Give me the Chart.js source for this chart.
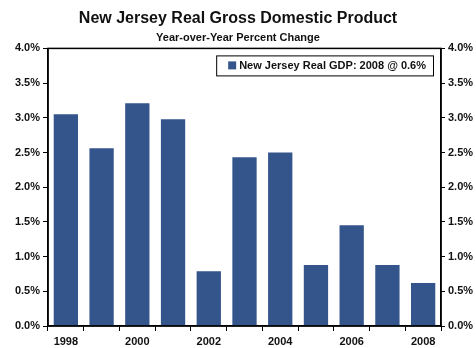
<!DOCTYPE html>
<html>
<head>
<meta charset="utf-8">
<script src="https://cdn.jsdelivr.net/npm/chart.js@4/dist/chart.umd.min.js"></script>
<style>
  html, body { margin: 0; padding: 0; background: #fff; }
  #wrap { width: 476px; height: 348px; }
</style>
</head>
<body>
<div id="wrap"><canvas id="gdpChart" width="476" height="348"></canvas></div>
<script>
const years = ['1998', '1999', '2000', '2001', '2002', '2003', '2004', '2005', '2006', '2007', '2008'];
const gdpGrowth = [3.05, 2.56, 3.21, 2.98, 0.79, 2.43, 2.50, 0.88, 1.45, 0.88, 0.62];
const seriesLabel = 'New Jersey Real GDP: 2008 @ 0.6%';
const yMin = 0, yMax = 4, yStep = 0.5;

const fontFamily = "'Liberation Sans', Arial, sans-serif";
const barColor = '#34558B';

// box round the plot area
const frame = {
   id: 'frame',
   afterDraw(chart) {
      const a = chart.chartArea, c = chart.ctx;
      c.save();
      c.strokeStyle = '#000';
      c.lineWidth = 1.5;
      c.strokeRect(a.left, a.top, a.right - a.left, a.bottom - a.top);
      c.restore();
   }
};

// legend drawn inside the plot, top right, with a border
const boxLegend = {
   id: 'boxLegend',
   afterDraw(chart) {
      const a = chart.chartArea, c = chart.ctx;
      const ds = chart.data.datasets[0];
      c.save();
      c.font = 'bold 11px ' + fontFamily;
      const tw = c.measureText(ds.label).width;
      const w = tw + 30, h = 20;
      const x = a.right - 8 - w, y = a.top + 7;
      c.fillStyle = '#fff';
      c.fillRect(x, y, w, h);
      c.strokeStyle = '#000';
      c.lineWidth = 1;
      c.strokeRect(x + 0.5, y + 0.5, w, h);
      c.fillStyle = ds.backgroundColor;
      c.fillRect(x + 12, y + 6, 8, 8);
      c.fillStyle = '#111';
      c.textBaseline = 'middle';
      c.fillText(ds.label, x + 23, y + h / 2 + 1);
      c.restore();
   }
};

const yTicks = {
   font: { family: fontFamily, size: 11, weight: 'bold' },
   color: '#111',
   stepSize: yStep,
   padding: 3,
   callback: v => v.toFixed(1) + '%'
};

const ctx = document.getElementById('gdpChart').getContext('2d');
const gdpChart = new Chart(ctx, {
   type: 'bar',
   data: {
      labels: years,
      datasets: [{
         label: seriesLabel,
         data: gdpGrowth,
         backgroundColor: barColor,
         barPercentage: 0.68,
         categoryPercentage: 1.0,
         yAxisID: 'y'
      }]
   },
   options: {
      responsive: false,
      animation: false,
      layout: { padding: { left: 0, right: 0, top: 0, bottom: 0 } },
      plugins: {
         legend: { display: false },
         tooltip: { enabled: false },
         title: {
            display: true,
            text: 'New Jersey Real Gross Domestic Product',
            color: '#111',
            font: { family: fontFamily, size: 16, weight: 'bold' },
            padding: { top: 9, bottom: 3 }
         },
         subtitle: {
            display: true,
            text: 'Year-over-Year Percent Change',
            color: '#111',
            font: { family: fontFamily, size: 11, weight: 'bold' },
            padding: { top: 0, bottom: 4 }
         }
      },
      scales: {
         x: {
            offset: true,
            grid: {
               offset: true,
               drawOnChartArea: false,
               tickLength: 5,
               color: '#000',
               lineWidth: 1
            },
            border: { color: '#000', width: 1.5 },
            ticks: {
               autoSkip: false,
               maxRotation: 0,
               font: { family: fontFamily, size: 11, weight: 'bold' },
               color: '#111',
               padding: 4,
               callback: function (v, i) { return i % 2 === 0 ? this.getLabelForValue(v) : ''; }
            },
            afterFit: s => { s.height = 22; }
         },
         y: {
            position: 'left',
            min: yMin,
            max: yMax,
            grid: { drawOnChartArea: false, tickLength: 5, color: '#000', lineWidth: 1 },
            border: { color: '#000', width: 1.5 },
            ticks: yTicks,
            afterFit: s => { s.width = 48; }
         },
         y2: {
            position: 'right',
            min: yMin,
            max: yMax,
            grid: { drawOnChartArea: false, tickLength: 4, color: '#000', lineWidth: 1 },
            border: { color: '#000', width: 1.5 },
            ticks: yTicks,
            afterFit: s => { s.width = 35; }
         }
      }
   },
   plugins: [frame, boxLegend]
});
</script>
</body>
</html>
